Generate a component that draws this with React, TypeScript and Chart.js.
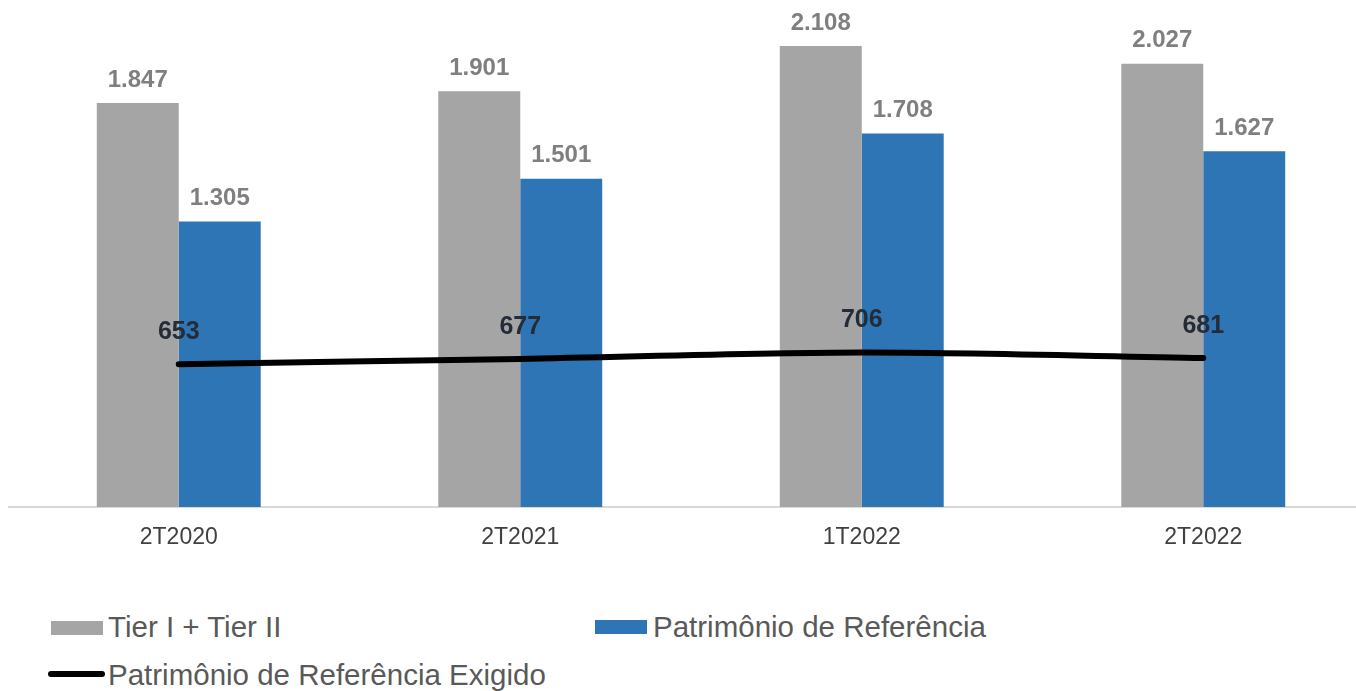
import React, { useEffect, useRef } from "react";
import { Chart, registerables } from "chart.js";

Chart.register(...registerables);

const categories = ["2T2020", "2T2021", "1T2022", "2T2022"];
const tierValues = [1847, 1901, 2108, 2027];
const prValues = [1305, 1501, 1708, 1627];
const prExigidoValues = [653, 677, 706, 681];

const seriesNames = ["Tier I + Tier II", "Patrimônio de Referência", "Patrimônio de Referência Exigido"];

const GRAY = "#a5a5a5";
const BLUE = "#2e75b6";
const FONT = "'Liberation Sans', Arial, sans-serif";

const fmt = (v: number) => {
  const s = String(v);
  return s.length > 3 ? s.slice(0, s.length - 3) + "." + s.slice(s.length - 3) : s;
};

const labelPlugin = {
  id: "valueLabels",
  afterDatasetsDraw(chart: any) {
    const ctx = chart.ctx;
    ctx.save();
    ctx.textAlign = "center";
    ctx.textBaseline = "middle";
    chart.data.datasets.forEach((ds: any, i: number) => {
      const meta = chart.getDatasetMeta(i);
      meta.data.forEach((el: any, j: number) => {
        const v = ds.data[j];
        if (ds.type === "line") {
          ctx.font = `bold 25px ${FONT}`;
          ctx.fillStyle = "#242c37";
          ctx.fillText(fmt(v), el.x, el.y - 32);
        } else {
          ctx.font = `bold 24px ${FONT}`;
          ctx.fillStyle = "#7f7f7f";
          ctx.fillText(fmt(v), el.x, el.y - 23);
        }
      });
    });
    ctx.restore();
  },
};

export default function App() {
  const ref = useRef<HTMLCanvasElement>(null);
  useEffect(() => {
    if (!ref.current) return;
    const chart = new Chart(ref.current, {
      type: "bar",
      data: {
        labels: categories,
        datasets: [
          {
            type: "line",
            label: seriesNames[2],
            data: prExigidoValues,
            borderColor: "#000000",
            borderWidth: 6,
            borderCapStyle: "round",
            pointRadius: 0,
            tension: 0.3,
            order: 0,
          } as any,
          {
            type: "bar",
            label: seriesNames[0],
            data: tierValues,
            backgroundColor: GRAY,
            categoryPercentage: 0.48,
            barPercentage: 1,
            order: 1,
          },
          {
            type: "bar",
            label: seriesNames[1],
            data: prValues,
            backgroundColor: BLUE,
            categoryPercentage: 0.48,
            barPercentage: 1,
            order: 1,
          },
        ],
      },
      options: {
        animation: false,
        responsive: false,
        maintainAspectRatio: false,
        layout: { padding: 0 },
        plugins: { legend: { display: false }, tooltip: { enabled: false } },
        scales: {
          x: {
            offset: true,
            grid: { display: false, drawTicks: false },
            border: { display: true, color: "#d9d9d9", width: 2 },
            ticks: {
              color: "#404040",
              font: { family: FONT, size: 23 },
              padding: 17,
              maxRotation: 0,
            },
            afterFit: (scale: any) => {
              scale.height = 53;
            },
          },
          y: {
            display: false,
            min: 0,
            max: 2318,
          },
        },
      },
      plugins: [labelPlugin],
    });
    return () => chart.destroy();
  }, []);

  const legendText: React.CSSProperties = {
    position: "absolute",
    fontFamily: FONT,
    fontSize: 29.5,
    lineHeight: "29.5px",
    color: "#595959",
    whiteSpace: "nowrap",
  };

  return (
    <div
      style={{
        position: "absolute",
        left: 0,
        top: 0,
        width: 1356,
        height: 691,
        overflow: "hidden",
        background: "#ffffff",
      }}
    >
      <canvas
        ref={ref}
        width={1366}
        height={560}
        style={{ position: "absolute", left: 8, top: 0, width: 1366, height: 560 }}
      />
      <div style={{ position: "absolute", left: 51, top: 621, width: 52, height: 14, background: GRAY }} />
      <div style={{ ...legendText, left: 108, top: 612 }}>{seriesNames[0]}</div>
      <div style={{ position: "absolute", left: 595, top: 620, width: 52, height: 14, background: BLUE }} />
      <div style={{ ...legendText, left: 653, top: 612 }}>{seriesNames[1]}</div>
      <div
        style={{ position: "absolute", left: 48, top: 671, width: 57, height: 6, background: "#000", borderRadius: 3 }}
      />
      <div style={{ ...legendText, left: 108, top: 660 }}>{seriesNames[2]}</div>
    </div>
  );
}
